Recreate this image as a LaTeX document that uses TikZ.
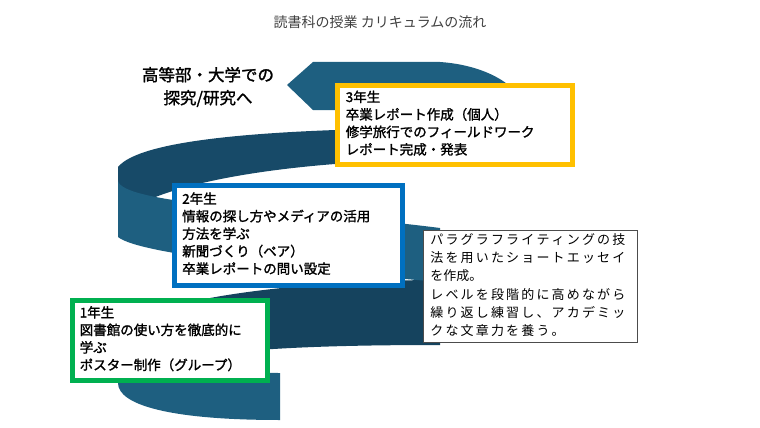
\documentclass[tikz,border=0pt]{standalone}
\usepackage{fontspec}
\setmainfont{Noto Sans CJK JP}
\newfontfamily\jpb[FakeBold=1.5]{Noto Sans CJK JP}
\definecolor{front}{HTML}{1E5F80}
\definecolor{back}{HTML}{174A68}
\definecolor{yel}{HTML}{FFC000}
\definecolor{blu}{HTML}{0070C0}
\definecolor{grn}{HTML}{00B050}
\begin{document}
\begin{tikzpicture}[x=1pt,y=-1pt,
  yearbox/.style={draw,line width=4.5pt,fill=white,anchor=north west,inner sep=0pt,align=left,
    font=\jpb\fontsize{13.5}{17.5}\selectfont,text=black},
  notebox/.style={draw=black!70,line width=0.8pt,fill=white,anchor=north west,inner sep=0pt,align=left,
    font=\fontsize{13}{18.2}\selectfont}]
\useasboundingbox (0,0) rectangle (760,428);
% ribbon
\fill[back] (118,167) .. controls (140,140) and (260,130) .. (420,128) -- (420,160) .. controls (300,162) and (160,180) .. (118,218) -- cycle;
\fill[back!90!black] (118,338) .. controls (125,300) and (300,280) .. (440,280) -- (440,345) .. controls (300,345) and (150,350) .. (118,383) -- cycle;
\fill[front] (440,228) .. controls (300,210) and (118,205) .. (118,180) -- (118,237) .. controls (140,255) and (300,270) .. (440,282) -- cycle;
\fill[front] (280,373) .. controls (170,373) and (118,360) .. (118,338) -- (118,383) .. controls (118,405) and (170,420) .. (280,420) -- cycle;
\fill[front] (313,62) -- (440,62) .. controls (500,66) and (540,100) .. (520,130) -- (420,130) -- (420,110) -- (313,110) -- (287,85) -- cycle;
% texts
\node (title) at (380,22) {\fontsize{14}{16}\selectfont\color{black!75}読書科の授業 カリキュラムの流れ};
\node[align=center,font=\jpb\fontsize{16.5}{23}\selectfont] (goal) at (208,87) {高等部・大学での\\探究/研究へ};
\node[yearbox,draw=yel,minimum width=235pt,minimum height=79pt,text width=228pt] (y3) at (335,83)
  {\hspace*{5pt}\begin{tabular}{@{}l@{}}3年生\\卒業レポート作成（個人）\\修学旅行でのフィールドワーク\\レポート完成・発表\end{tabular}};
\node[yearbox,draw=blu,minimum width=228pt,minimum height=100pt,text width=222pt] (y2) at (172,183)
  {\hspace*{5pt}\begin{tabular}{@{}l@{}}2年生\\情報の探し方やメディアの活用\\方法を学ぶ\\新聞づくり（ペア）\\卒業レポートの問い設定\end{tabular}};
\node[yearbox,draw=grn,minimum width=195pt,minimum height=80pt,text width=190pt] (y1) at (70,298)
  {\hspace*{5pt}\begin{tabular}{@{}l@{}}1年生\\図書館の使い方を徹底的に\\学ぶ\\ポスター制作（グループ）\end{tabular}};
\node[notebox,minimum width=214pt,minimum height=112pt,text width=210pt] (note) at (423,230)
  {\hspace*{5pt}\begin{tabular}{@{}l@{}}パ\,ラ\,グ\,ラ\,フ\,ラ\,イ\,テ\,ィ\,ン\,グ\,の\,技\\法\,を\,用\,い\,た\,シ\,ョ\,ー\,ト\,エ\,ッ\,セ\,イ\\を作成。\\レ\,ベ\,ル\,を\,段\,階\,的\,に\,高\,め\,な\,が\,ら\\繰\,り\,返\,し\,練\,習\,し\,、\,ア\,カ\,デ\,ミ\,ッ\\ク\,な\,文\,章\,力\,を\,養\,う\,。\end{tabular}};
\end{tikzpicture}
\end{document}
